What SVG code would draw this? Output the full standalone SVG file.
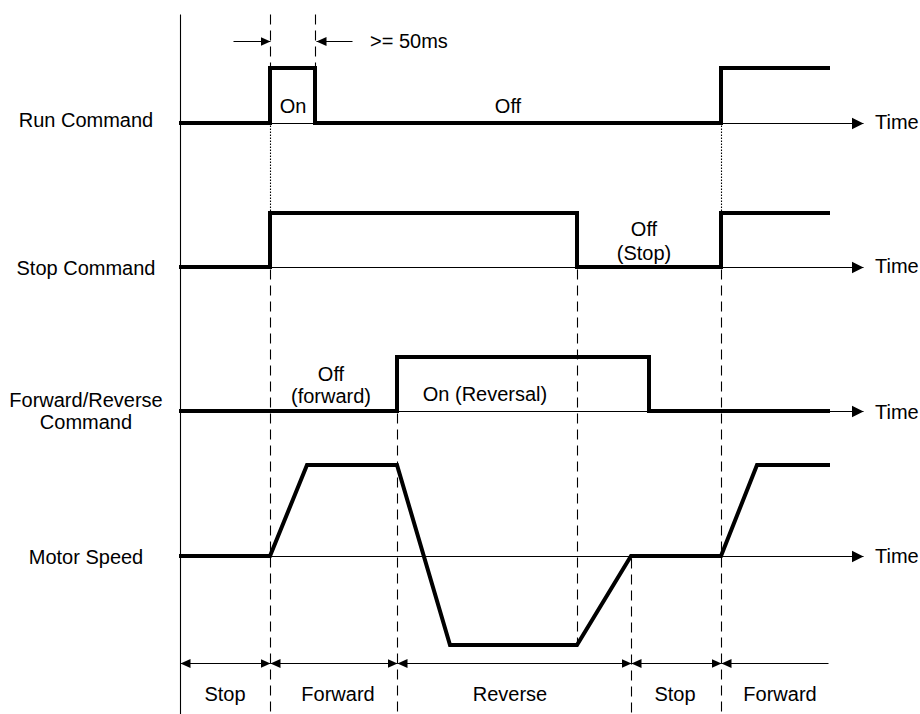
<svg xmlns="http://www.w3.org/2000/svg" width="920" height="714" viewBox="0 0 920 714">
<style>
  text { font-family: "Liberation Sans", Arial, sans-serif; font-size: 20px; fill: #000; }
  .mid { text-anchor: middle; }
  .axis { stroke: #000; stroke-width: 1.1; fill: none; }
  .sig { stroke: #000; stroke-width: 4; fill: none; stroke-linejoin: miter; stroke-linecap: square; }
  .dash { stroke: #000; stroke-width: 1.1; fill: none; stroke-dasharray: 10 6; }
  .dot { stroke: #000; stroke-width: 1.1; fill: none; stroke-dasharray: 1.5 1.5; }
  .dim { stroke: #000; stroke-width: 1.1; fill: none; }
</style>
<defs>
  <marker id="timeArrow" markerUnits="userSpaceOnUse" markerWidth="13" markerHeight="14" refX="12" refY="6.5" orient="auto">
    <path d="M0,0.5 L12,6.5 L0,12.5 z" fill="#000"/>
  </marker>
  <marker id="dimArrow" markerUnits="userSpaceOnUse" markerWidth="11" markerHeight="10" refX="10" refY="5" orient="auto-start-reverse">
    <path d="M0,0.5 L10,5 L0,9.5 z" fill="#000"/>
  </marker>
</defs>
<rect width="920" height="714" fill="#fff"/>

<g id="time-axes">
  <g transform="translate(0.5,0.5)">
    <line class="axis" x1="180" y1="14" x2="180" y2="714"/>
    <line class="axis" x1="180" y1="123" x2="863" y2="123" marker-end="url(#timeArrow)"/>
    <line class="axis" x1="180" y1="267" x2="863" y2="267" marker-end="url(#timeArrow)"/>
    <line class="axis" x1="180" y1="411" x2="863" y2="411" marker-end="url(#timeArrow)"/>
    <line class="axis" x1="180" y1="556" x2="863" y2="556" marker-end="url(#timeArrow)"/>
  </g>
  <text x="875" y="129">Time</text>
  <text x="875" y="273">Time</text>
  <text x="875" y="419">Time</text>
  <text x="875" y="563">Time</text>
</g>

<g id="run-command">
  <text class="mid" x="86" y="127">Run Command</text>
  <polyline class="sig" points="181,123 270,123 270,68 315,68 315,123 721,123 721,68 828,68"/>
  <text class="mid" x="293" y="113">On</text>
  <text class="mid" x="508" y="113">Off</text>
</g>

<g id="stop-command">
  <text class="mid" x="86" y="275">Stop Command</text>
  <polyline class="sig" points="181,267 270,267 270,213 577,213 577,267 721,267 721,213 828,213"/>
  <text class="mid" x="644" y="236">Off</text>
  <text class="mid" x="644" y="260">(Stop)</text>
</g>

<g id="forward-reverse-command">
  <text class="mid" x="86" y="407">Forward/Reverse</text>
  <text class="mid" x="86" y="429">Command</text>
  <polyline class="sig" points="181,411 397,411 397,357 649,357 649,411 828,411"/>
  <text class="mid" x="331" y="381">Off</text>
  <text class="mid" x="331" y="403">(forward)</text>
  <text class="mid" x="485" y="401">On (Reversal)</text>
</g>

<g id="motor-speed">
  <text class="mid" x="86" y="564">Motor Speed</text>
  <polyline class="sig" points="181,556 270,556 307,465 397,465 450,645 577,645 631,556 721,556 757,465 828,465"/>
</g>

<g id="connectors">
  <g transform="translate(0.5,0.5)">
    <line class="dash" x1="270" y1="14" x2="270" y2="66"/>
    <line class="dash" x1="315" y1="14" x2="315" y2="66"/>
    <line class="dim" x1="233" y1="41" x2="270" y2="41" marker-end="url(#dimArrow)"/>
    <line class="dim" x1="352" y1="41" x2="316" y2="41" marker-end="url(#dimArrow)"/>

    <line class="dot" x1="270" y1="125" x2="270" y2="212"/>
    <line class="dot" x1="721" y1="125" x2="721" y2="212"/>

    <line class="dash" x1="270" y1="269" x2="270" y2="714"/>
    <line class="dash" x1="397" y1="413" x2="397" y2="714"/>
    <line class="dash" x1="577" y1="269" x2="577" y2="644"/>
    <line class="dash" x1="631" y1="558" x2="631" y2="714"/>
    <line class="dash" x1="721" y1="269" x2="721" y2="714"/>

    <line class="dim" x1="180" y1="663" x2="270" y2="663" marker-start="url(#dimArrow)" marker-end="url(#dimArrow)"/>
    <line class="dim" x1="270" y1="663" x2="397" y2="663" marker-start="url(#dimArrow)" marker-end="url(#dimArrow)"/>
    <line class="dim" x1="397" y1="663" x2="631" y2="663" marker-start="url(#dimArrow)" marker-end="url(#dimArrow)"/>
    <line class="dim" x1="631" y1="663" x2="721" y2="663" marker-start="url(#dimArrow)" marker-end="url(#dimArrow)"/>
    <line class="dim" x1="721" y1="663" x2="828" y2="663" marker-start="url(#dimArrow)"/>
  </g>
  <text x="370" y="48">&gt;= 50ms</text>
</g>

<g id="phases">
  <text class="mid" x="225" y="701">Stop</text>
  <text class="mid" x="338" y="701">Forward</text>
  <text class="mid" x="510" y="701">Reverse</text>
  <text class="mid" x="675" y="701">Stop</text>
  <text class="mid" x="780" y="701">Forward</text>
</g>
</svg>
